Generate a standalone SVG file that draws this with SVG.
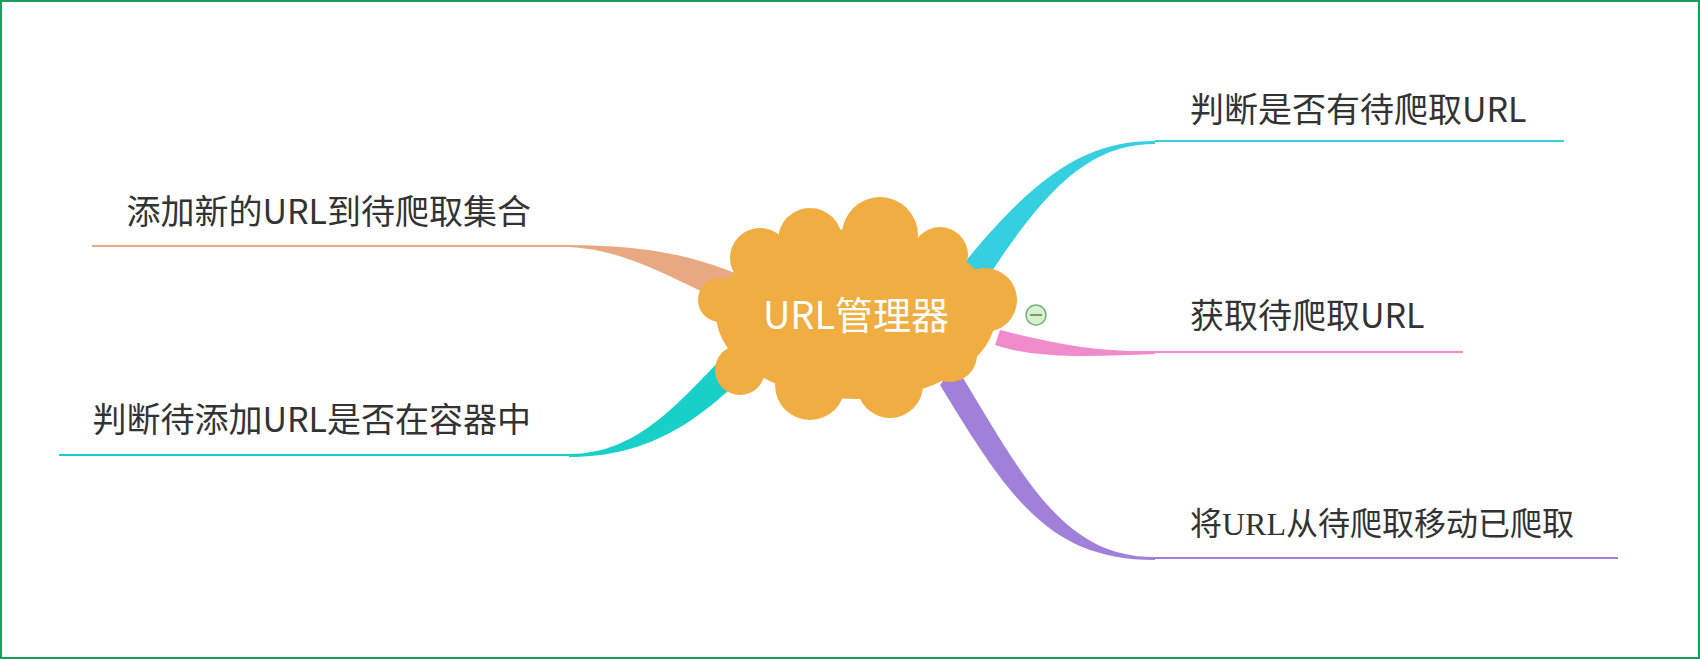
<svg xmlns="http://www.w3.org/2000/svg" width="1700" height="659" viewBox="0 0 1700 659">
<style>
.t{font-family:"Noto Sans CJK SC","Noto Sans",sans-serif;font-size:34px;fill:#333}
.s{font-family:"Liberation Serif","Noto Sans CJK SC",serif;font-size:32px;fill:#333}
.c{fill:#f0ad42}
</style>
<rect x="1" y="1" width="1698" height="657" fill="#fff" stroke="#1a9e5a" stroke-width="2"/>
<g id="connectors">
<path d="M965,262 C1040,170 1090,141 1155,141 L1155,144 C1095,144 1050,180 985,282 Z" fill="#36cfe0"/>
<path d="M1155,141 H1564" stroke="#36cfe0" stroke-width="2"/>
<path d="M1000,330 C1060,345 1100,352 1155,351 L1155,354 C1100,356 1040,360 995,345 Z" fill="#f08ccc"/>
<path d="M1155,352 H1463" stroke="#f08ccc" stroke-width="2"/>
<path d="M955,365 C1020,470 1060,558 1155,557 L1155,560 C1050,560 1010,500 940,385 Z" fill="#a080d8"/>
<path d="M1155,558 H1618" stroke="#a080d8" stroke-width="2"/>
<path d="M740,275 C680,250 630,246 569,245 L569,247 C625,250 665,275 720,300 Z" fill="#e8a882"/>
<path d="M92,246 H569" stroke="#e8a882" stroke-width="2"/>
<path d="M735,345 C680,400 640,454 569,454 L569,457 C650,457 700,420 750,370 Z" fill="#18d0c8"/>
<path d="M59,455 H569" stroke="#18d0c8" stroke-width="2"/>
</g>
<g id="center">
<ellipse class="c" cx="856" cy="314" rx="140" ry="85"/>
<circle class="c" cx="810" cy="240" r="32"/>
<circle class="c" cx="880" cy="235" r="38"/>
<circle class="c" cx="760" cy="258" r="30"/>
<circle class="c" cx="940" cy="255" r="28"/>
<circle class="c" cx="985" cy="300" r="32"/>
<circle class="c" cx="720" cy="300" r="22"/>
<circle class="c" cx="740" cy="370" r="25"/>
<circle class="c" cx="810" cy="385" r="35"/>
<circle class="c" cx="890" cy="385" r="33"/>
<circle class="c" cx="950" cy="355" r="27"/>
<text x="856" y="329" text-anchor="middle" font-family="'Noto Sans CJK SC','Noto Sans',sans-serif" font-size="38" fill="#fff">URL管理器</text>
</g>
<g id="collapse">
<circle cx="1036" cy="315" r="10" fill="#d8f0d0" stroke="#7ab07a" stroke-width="1.5"/>
<path d="M1030,315 H1042" stroke="#4a8a4a" stroke-width="1.5"/>
</g>
<g id="n1"><text class="t" x="1190" y="122">判断是否有待爬取URL</text></g>
<g id="n2"><text class="t" x="1190" y="328">获取待爬取URL</text></g>
<g id="n3"><text class="s" x="1190" y="535">将URL从待爬取移动已爬取</text></g>
<g id="n4"><text class="t" x="531" y="224" text-anchor="end">添加新的URL到待爬取集合</text></g>
<g id="n5"><text class="t" x="531" y="432" text-anchor="end">判断待添加URL是否在容器中</text></g>
</svg>
